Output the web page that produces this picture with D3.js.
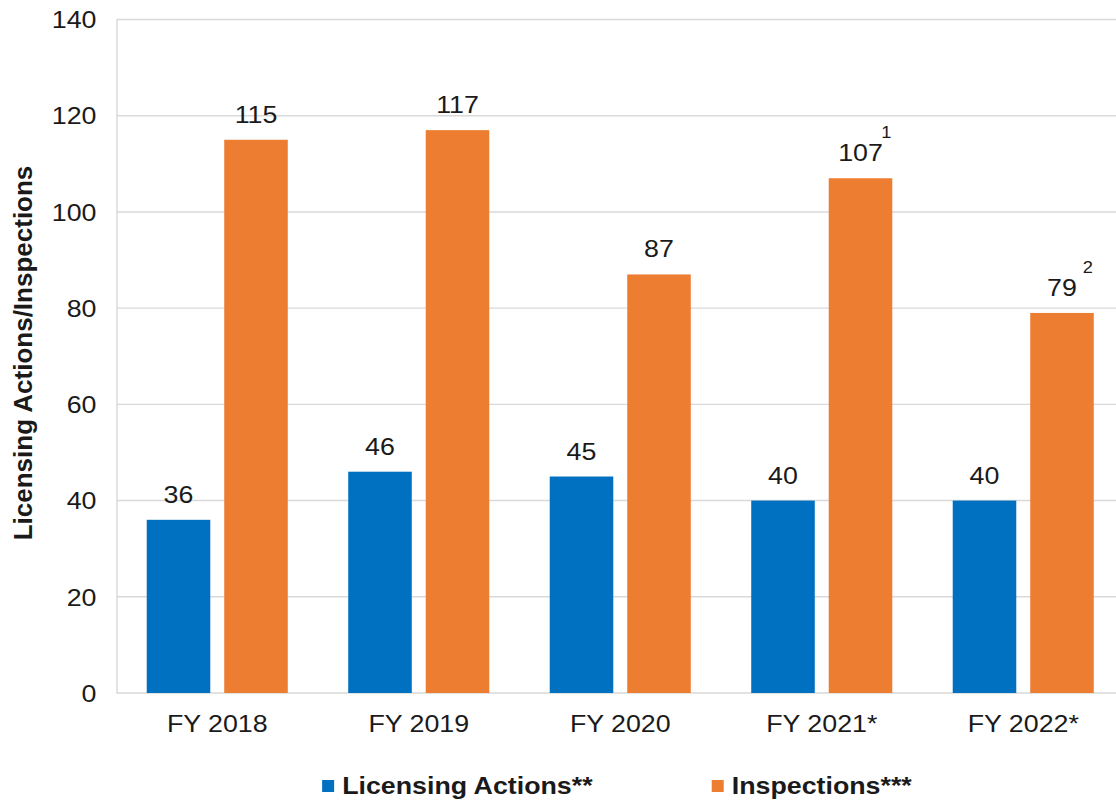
<!DOCTYPE html>
<html>
<head>
<meta charset="utf-8">
<script src="https://cdn.jsdelivr.net/npm/d3@7"></script>
<style>
  body { margin: 0; background: #fff; }
  svg { display: block; }
  text { font-family: "Liberation Sans", Arial, sans-serif; fill: #1a1a1a; }
</style>
</head>
<body>
<svg id="chart" width="1116" height="803"></svg>
<script>
// Fiscal years and the two series shown for each
const categories = ["FY 2018", "FY 2019", "FY 2020", "FY 2021*", "FY 2022*"];
const seriesNames = ["Licensing Actions**", "Inspections***"];
const licensingActions = [36, 46, 45, 40, 40];
const inspections = [115, 117, 87, 107, 79];
const inspectionNotes = ["", "", "", "1", "2"];
const yTicks = [0, 20, 40, 60, 80, 100, 120, 140];
const seriesColors = ["#0070C0", "#ED7D31"];
const yTitle = "Licensing Actions/Inspections";

const seriesValues = [licensingActions, inspections];

// Layout
const plot = { left: 116.5, right: 1124, top: 19.5, bottom: 693 };
const fontSize = 23.5;
const sx = 1.14;            // horizontal widening of the text glyphs
const gridColor = "#d9d9d9";

const svg = d3.select("#chart");

const x0 = d3.scaleBand().domain(categories).range([plot.left, plot.right]).padding(0);
const x1 = d3.scaleBand().domain(seriesNames).range([0, x0.bandwidth()])
  .paddingInner(0.18).paddingOuter(0.39);
const y = d3.scaleLinear().domain([0, 140]).range([plot.bottom, plot.top]);

// place a text element with widened glyphs, anchored at (x, y)
function place(sel, x, yy) {
  return sel.attr("x", 0).attr("y", 0)
    .attr("transform", `translate(${x},${yy}) scale(${sx},1)`);
}

// Horizontal gridlines
svg.append("g").selectAll("line")
  .data(yTicks.filter(d => d > 0))
  .join("line")
  .attr("x1", plot.left).attr("x2", plot.right)
  .attr("y1", d => y(d)).attr("y2", d => y(d))
  .attr("stroke", gridColor).attr("stroke-width", 1.4);

// Left axis with its tick labels
const yAxis = svg.append("g")
  .attr("transform", `translate(${plot.left},0)`)
  .call(d3.axisLeft(y).tickValues(yTicks).tickSize(0).tickPadding(20).tickFormat(d3.format("d")));
yAxis.select(".domain").attr("stroke", gridColor).attr("stroke-width", 1.4);
yAxis.selectAll(".tick text")
  .attr("fill", "#1a1a1a")
  .style("font-size", fontSize + "px")
  .style("font-family", '"Liberation Sans", Arial, sans-serif')
  .attr("x", 0).attr("dy", "0.35em")
  .attr("transform", `translate(-20,0) scale(${sx},1)`);

// Baseline
svg.append("line")
  .attr("x1", plot.left).attr("x2", plot.right)
  .attr("y1", plot.bottom).attr("y2", plot.bottom)
  .attr("stroke", gridColor).attr("stroke-width", 1.6);

// Bars
const rows = categories.map((c, i) => ({
  cat: c,
  items: seriesNames.map((s, j) => ({ s, j, v: seriesValues[j][i], note: j === 1 ? inspectionNotes[i] : "" }))
}));

const groups = svg.append("g").selectAll("g")
  .data(rows).join("g")
  .attr("transform", d => `translate(${x0(d.cat)},0)`);

groups.selectAll("rect")
  .data(d => d.items).join("rect")
  .attr("x", d => x1(d.s))
  .attr("width", x1.bandwidth())
  .attr("y", d => y(d.v))
  .attr("height", d => plot.bottom - y(d.v))
  .attr("fill", d => seriesColors[d.j]);

// Value labels
groups.selectAll("text.val")
  .data(d => d.items).join("text")
  .attr("class", "val")
  .attr("text-anchor", "middle")
  .style("font-size", fontSize + "px")
  .text(d => d.v)
  .each(function (d) { place(d3.select(this), x1(d.s) + x1.bandwidth() / 2, y(d.v) - 17); });

// Footnote markers above the inspection bars
groups.selectAll("text.note")
  .data(d => d.items.filter(it => it.note)).join("text")
  .attr("class", "note")
  .attr("text-anchor", "end")
  .style("font-size", "16px")
  .text(d => d.note)
  .each(function (d) { place(d3.select(this), x1(d.s) + x1.bandwidth() - 1, y(d.v) - 40); });

// Category labels
svg.append("g").selectAll("text")
  .data(categories).join("text")
  .attr("text-anchor", "middle")
  .style("font-size", fontSize + "px")
  .text(d => d)
  .each(function (d) { place(d3.select(this), x0(d) + x0.bandwidth() / 2, 731.5); });

// Y axis title
svg.append("text")
  .attr("transform", "translate(32,353) rotate(-90)")
  .attr("text-anchor", "middle")
  .style("font-size", "26px")
  .style("font-weight", "bold")
  .text(yTitle);

// Legend, centred under the plot
const legend = svg.append("g");
const items = legend.selectAll("g").data(seriesNames).join("g");
items.append("rect")
  .attr("width", 12).attr("height", 12)
  .attr("y", 780)
  .attr("fill", (d, i) => seriesColors[i]);
items.append("text")
  .style("font-size", fontSize + "px")
  .style("font-weight", "bold")
  .text(d => d);

let cursor = 0;
const itemGap = 119, swatchGap = 8;
items.each(function () {
  const g = d3.select(this);
  const t = g.select("text");
  const w = t.node().getComputedTextLength() * sx;
  g.select("rect").attr("x", cursor);
  place(t, cursor + 12 + swatchGap, 794);
  cursor += 12 + swatchGap + w + itemGap;
});
const legendWidth = cursor - itemGap;
legend.attr("transform", `translate(${617 - legendWidth / 2},0)`);
</script>
</body>
</html>
